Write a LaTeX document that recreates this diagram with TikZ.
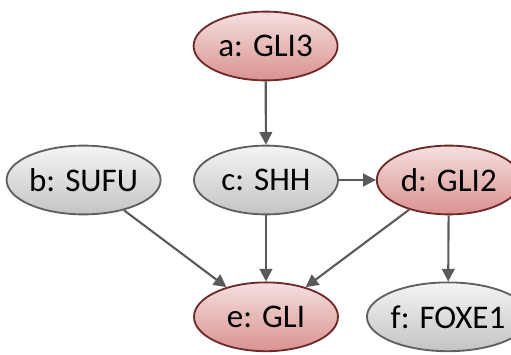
\documentclass[tikz,border=0pt]{standalone}
\usepackage{fontspec}
\setmainfont{Carlito}
\usetikzlibrary{shapes.geometric,arrows.meta}

\definecolor{redtop}{HTML}{F4E0DF}
\definecolor{redbot}{HTML}{D99290}
\definecolor{redline}{HTML}{6E2A28}
\definecolor{greytop}{HTML}{F4F4F4}
\definecolor{greybot}{HTML}{C4C4C4}
\definecolor{greyline}{HTML}{5F5F5F}
\definecolor{edgecol}{HTML}{5A5A5A}

\tikzset{
  gene/.style={ellipse,minimum width=3.6cm,minimum height=1.72cm,
    line width=1.3pt,font=\fontsize{23.5}{26}\selectfont,inner sep=0pt},
  redgene/.style={gene,draw=redline,top color=redtop,bottom color=redbot},
  greygene/.style={gene,draw=greyline,top color=greytop,bottom color=greybot},
  link/.style={draw=edgecol,line width=1.5pt,-{Triangle[length=9pt,width=9pt]}}
}

\begin{document}
\begin{tikzpicture}
\useasboundingbox (0,0) rectangle (12.775,-8.85);
\node[redgene]  (a) at (6.64,-1.15) {a: GLI3};
\node[greygene] (b) at (2.09,-4.5) {b: SUFU};
\node[greygene] (c) at (6.65,-4.5) {c: SHH};
\node[redgene]  (d) at (11.22,-4.5) {d: GLI2};
\node[redgene]  (e) at (6.65,-7.92) {e: GLI};
\node[greygene] (f) at (11.2,-7.92) {f: FOXE1};
% edges
\draw[link] (a) -- (c);
\draw[link] (c) -- (d);
\draw[link] (b) -- (e);
\draw[link] (c) -- (e);
\draw[link] (d) -- (e);
\draw[link] (d) -- (f);
\end{tikzpicture}
\end{document}
